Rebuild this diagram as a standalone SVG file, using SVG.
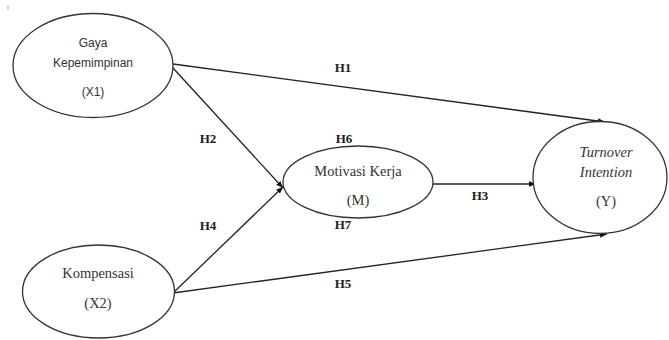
<svg xmlns="http://www.w3.org/2000/svg" width="669" height="340" viewBox="0 0 669 340">
<style>
.node{fill:#fff;stroke:#333;stroke-width:1.3}
.sans{font-family:"Liberation Sans",Arial,sans-serif;font-size:12px;fill:#333;text-anchor:middle}
.serif{font-family:"Liberation Serif","Times New Roman",serif;font-size:14.5px;fill:#333;text-anchor:middle}
.it{font-style:italic}
.lbl{font-family:"Liberation Serif","Times New Roman",serif;font-size:13px;font-weight:bold;fill:#222;text-anchor:middle}
.edge{stroke:#222;stroke-width:1.3;fill:none;marker-end:url(#arr)}
</style>
<defs>
<marker id="arr" viewBox="0 0 10 10" refX="10" refY="5" markerWidth="7" markerHeight="7" markerUnits="userSpaceOnUse" orient="auto">
<path d="M0,1 L10,5 L0,9 Z" fill="#111"/>
</marker>
</defs>
<rect width="669" height="340" fill="#fff"/>
<line x1="8" y1="5" x2="8" y2="10" stroke="#aaa" stroke-width="1"/>
<g id="connectors">
<line class="edge" x1="173" y1="64" x2="605" y2="122"/>
<line class="edge" x1="173" y1="68" x2="283" y2="188"/>
<line class="edge" x1="173" y1="293" x2="283" y2="187"/>
<line class="edge" x1="173" y1="293" x2="607" y2="234"/>
<line class="edge" x1="433" y1="184" x2="536" y2="184"/>
</g>
<g id="X1">
<ellipse class="node" cx="93" cy="65.5" rx="80" ry="52"/>
<text class="sans" x="93" y="47">Gaya</text>
<text class="sans" x="93" y="67">Kepemimpinan</text>
<text class="sans" x="93" y="96">(X1)</text>
</g>
<g id="X2">
<ellipse class="node" cx="98.5" cy="291.5" rx="76" ry="46.5"/>
<text class="serif" x="98" y="278">Kompensasi</text>
<text class="serif" x="98" y="308">(X2)</text>
</g>
<g id="M">
<ellipse class="node" cx="358" cy="182" rx="75" ry="36"/>
<text class="serif" x="358" y="176">Motivasi Kerja</text>
<text class="serif" x="358" y="205">(M)</text>
</g>
<g id="Y">
<ellipse class="node" cx="600" cy="177.5" rx="67" ry="56"/>
<text class="serif it" x="606" y="157">Turnover</text>
<text class="serif it" x="606" y="177">Intention</text>
<text class="serif" x="606" y="206">(Y)</text>
</g>
<g id="labels">
<text class="lbl" x="343" y="72">H1</text>
<text class="lbl" x="208" y="143">H2</text>
<text class="lbl" x="344" y="143">H6</text>
<text class="lbl" x="480" y="200">H3</text>
<text class="lbl" x="208" y="230">H4</text>
<text class="lbl" x="343" y="229">H7</text>
<text class="lbl" x="343" y="288">H5</text>
</g>
</svg>
